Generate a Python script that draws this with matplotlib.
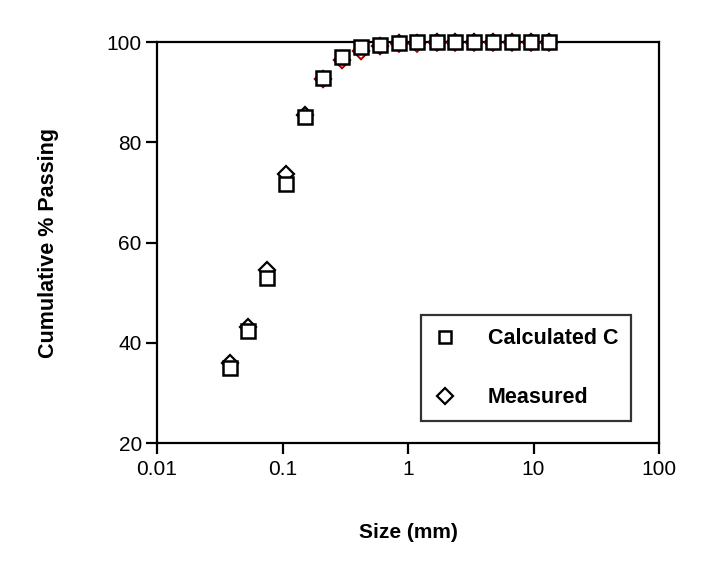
import numpy as np
from matplotlib import pyplot as plt

# sieve sizes (mm)
size_mm = [0.038, 0.053, 0.075, 0.106, 0.15, 0.212, 0.3, 0.425, 0.6,
           0.85, 1.18, 1.7, 2.36, 3.35, 4.75, 6.7, 9.5, 13.2]

calculated_c = [35.0, 42.3, 53.0, 71.6, 85.0, 92.9, 97.0, 99.0, 99.5,
                99.9, 100.0, 100.0, 100.0, 100.0, 100.0, 100.0, 100.0, 100.0]

measured = [36.0, 43.1, 54.6, 73.7, 85.5, 92.7, 96.5, 98.3, 99.3,
            99.8, 99.9, 100.0, 100.0, 100.0, 100.0, 100.0, 100.0, 100.0]

# unlabelled red series peeking out below the squares
red_size = size_mm[5:]
red_vals = [92.6, 96.4, 98.2, 99.2, 99.6, 99.7, 99.8, 99.8, 99.8,
            99.8, 99.8, 99.8, 99.8]

x_ticks = [0.01, 0.1, 1, 10, 100]
x_tick_labels = ['0.01', '0.1', '1', '10', '100']
y_ticks = [20, 40, 60, 80, 100]

plt.rcParams['font.family'] = ['Liberation Sans', 'DejaVu Sans']

fig = plt.figure(figsize=(7.08, 5.69), dpi=100)
ax = fig.add_axes([0.2218, 0.2214, 0.7090, 0.7047])

ax.plot(size_mm, measured, linestyle='none', marker='D', markersize=8.5,
        markerfacecolor='white', markeredgecolor='black', markeredgewidth=1.6,
        label='Measured', clip_on=False, zorder=3)
ax.plot(red_size, red_vals, linestyle='none', marker='D', markersize=8.5,
        markerfacecolor='white', markeredgecolor='#cc0000', markeredgewidth=1.2,
        label='_nolegend_', clip_on=False, zorder=3.5)
ax.plot(size_mm, calculated_c, linestyle='none', marker='s', markersize=10.5,
        markerfacecolor='white', markeredgecolor='black', markeredgewidth=1.8,
        label='Calculated C', clip_on=False, zorder=4)

ax.set_xscale('log')
ax.set_xlim(0.01, 100)
ax.set_ylim(20, 100)
ax.set_xticks(x_ticks)
ax.set_xticklabels(x_tick_labels)
ax.set_yticks(y_ticks)
ax.minorticks_off()
ax.tick_params(axis='both', direction='out', length=8, width=1.6,
               labelsize=15, top=False, right=False)
ax.tick_params(axis='x', pad=4)
ax.tick_params(axis='y', pad=3)

for sp in ax.spines.values():
    sp.set_linewidth(1.6)

ax.set_xlabel('Size (mm)', fontsize=15, fontweight='bold', labelpad=32)
ax.set_ylabel('Cumulative % Passing', fontsize=15.5, fontweight='bold', labelpad=34)

handles, labels = ax.get_legend_handles_labels()
order = [labels.index('Calculated C'), labels.index('Measured')]
leg = ax.legend([handles[i] for i in order], [labels[i] for i in order],
                loc='lower right', bbox_to_anchor=(0.945, 0.055),
                frameon=True, fancybox=False, edgecolor='black',
                prop={'weight': 'bold', 'size': 15.5}, labelspacing=1.75,
                handlelength=1.0, handletextpad=1.5, borderpad=0.6,
                borderaxespad=0)
leg.get_frame().set_linewidth(1.6)
for h in leg.legend_handles:
    h.set_markersize(8)

fig.savefig('out.png', dpi=100)
